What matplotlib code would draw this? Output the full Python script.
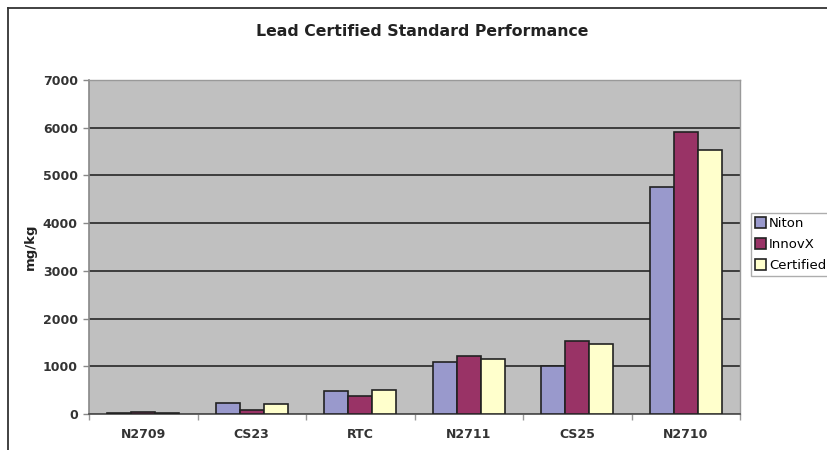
import matplotlib
matplotlib.use("Agg")
import matplotlib.pyplot as plt
import numpy as np
from matplotlib.lines import Line2D

plt.rcParams['font.family'] = ['DejaVu Sans']

categories = ["N2709", "CS23", "RTC", "N2711", "CS25", "N2710"]
series_names = ["Niton", "InnovX", "Certified"]
niton = [25, 230, 490, 1090, 1010, 4760]
innovx = [40, 90, 380, 1220, 1540, 5900]
certified = [25, 210, 500, 1160, 1460, 5540]
colors = ["#9999CC", "#993366", "#FFFFCC"]
yticks = [0, 1000, 2000, 3000, 4000, 5000, 6000, 7000]

fig = plt.figure(figsize=(8.28, 4.5), dpi=100)
ax = fig.add_axes([89/828, 1-414/450, (740-89)/828, (414-80)/450])
ax.set_facecolor("#C0C0C0")

x = np.arange(len(categories))
w = 1/4.5
for i, (vals, name, c) in enumerate(zip([niton, innovx, certified], series_names, colors)):
    ax.bar(x + (i-1)*w, vals, width=w, color=c, edgecolor="#222222", linewidth=1.2,
           label=name, zorder=3)

ax.set_xlim(-0.5, len(categories)-0.5)
ax.set_ylim(0, 7000)
ax.set_yticks(yticks)
ax.set_yticklabels([str(v) for v in yticks], fontsize=9, fontweight='bold', color="#333333")
ax.yaxis.grid(True, color="#333333", linewidth=1.3, zorder=1)
ax.set_axisbelow(True)

ax.set_xticks(x)
ax.set_xticklabels(categories, fontsize=9, fontweight='bold', color="#333333")
ax.tick_params(axis='x', which='major', length=0, pad=10)
ax.set_xticks(np.arange(-0.5, len(categories), 1), minor=True)
ax.tick_params(axis='x', which='minor', length=4, color="#999999", width=1)
ax.tick_params(axis='y', length=4, color="#888888", width=1, pad=4)

for s in ['top', 'right']:
    ax.spines[s].set_color("#999999")
    ax.spines[s].set_linewidth(1)
ax.spines['left'].set_color("#888888")
ax.spines['left'].set_linewidth(1.2)
ax.spines['bottom'].set_color("#555555")
ax.spines['bottom'].set_linewidth(1.3)

ax.set_ylabel("mg/kg", fontsize=9.5, fontweight='bold', color="#222222")
ax.yaxis.set_label_coords((37-89)/651, 0.5)

fig.text(422/828, 1-31/450, "Lead Certified Standard Performance", ha='center', va='center',
         fontsize=11.3, fontweight='bold', color="#222222")

leg = ax.legend(loc='upper left', bbox_to_anchor=(751/828, 1-213/450), bbox_transform=fig.transFigure,
                borderaxespad=0, fontsize=9.5, frameon=True, fancybox=False,
                handlelength=0.85, handleheight=0.85, handletextpad=0.2, labelspacing=0.62,
                borderpad=0.3)
leg.get_frame().set_edgecolor("#999999")
leg.get_frame().set_linewidth(1)

# figure border (cropped chart frame)
fig.add_artist(Line2D([8/828, 8/828], [0, 1-8/450], transform=fig.transFigure, color="#333333", linewidth=1.3))
fig.add_artist(Line2D([8/828, 1], [1-8/450, 1-8/450], transform=fig.transFigure, color="#333333", linewidth=1.3))

fig.savefig("out.png", dpi=100)
